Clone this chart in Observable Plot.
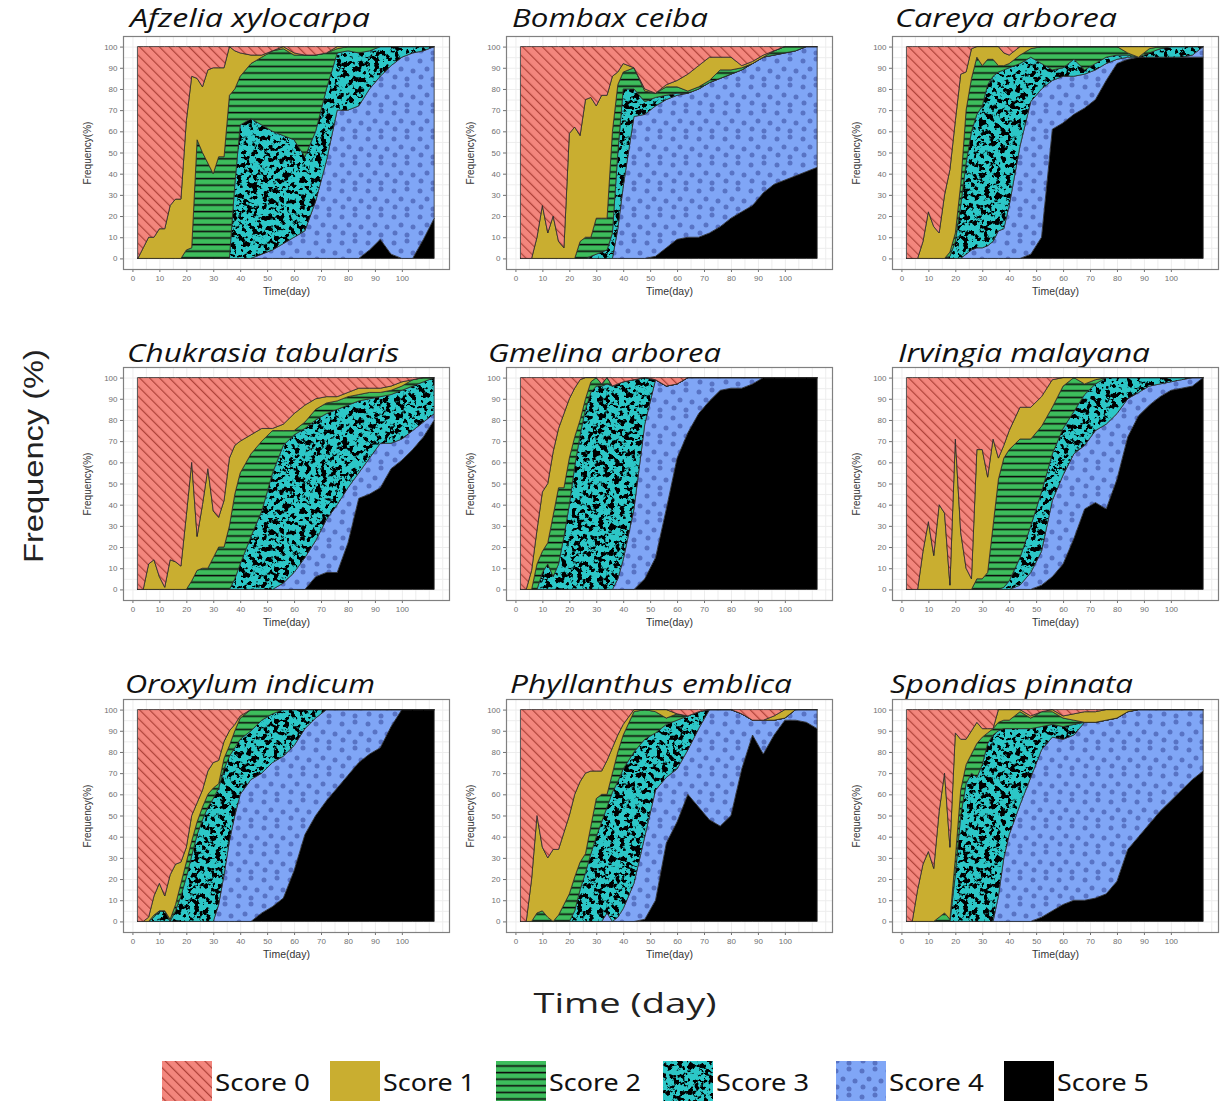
<!DOCTYPE html>
<html>
<head>
<meta charset="utf-8">
<script src="https://cdn.jsdelivr.net/npm/d3@7"></script>
<script src="https://cdn.jsdelivr.net/npm/@observablehq/plot@0.6"></script>
<style>
  html, body { margin: 0; padding: 0; background: #ffffff; }
  #root { position: relative; width: 1225px; height: 1101px; overflow: hidden; background: #ffffff; }
</style>
</head>
<body>
<div id="root"></div>
<script>
// ---------------- DATA ----------------
const days = [2,4,6,8,10,12,14,16,18,20,22,24,26,28,30,32,34,36,38,40,44,48,52,56,60,64,68,72,76,80,84,88,92,96,100,104,108,112];
const xTicks = [0,10,20,30,40,50,60,70,80,90,100];
const yTicks = [0,10,20,30,40,50,60,70,80,90,100];
const scoreNames = ["Score 0","Score 1","Score 2","Score 3","Score 4","Score 5"];
const speciesNames = ["Afzelia xylocarpa","Bombax ceiba","Careya arborea","Chukrasia tabularis","Gmelina arborea","Irvingia malayana","Oroxylum indicum","Phyllanthus emblica","Spondias pinnata"];

// each species: [score0, score1, score2, score3, score4, score5] frequencies (%) at `days`
const afzelia = [
  [100,95,90,90,86,86,75,72,72,35,14,15,19,11,10,10,10,0,2,3,4,4,2,0,3,4,4,3,0,0,0,0,0,0,0,0,0,0],
  [0,5,10,10,14,14,25,28,28,61,81,29,31,44,50,42,42,23,18,11,4,1,0,1,1,0,0,0,1,0,0,0,0,0,0,0,0,0],
  [0,0,0,0,0,0,0,0,0,4,5,56,50,45,40,48,48,77,45,23,26,32,38,41,40,48,36,17,2,2,3,2,0,0,0,0,0,0],
  [0,0,0,0,0,0,0,0,0,0,0,0,0,0,0,0,0,0,35,63,66,61,56,51,46,35,33,34,27,28,25,18,14,9,5,3,2,0],
  [0,0,0,0,0,0,0,0,0,0,0,0,0,0,0,0,0,0,0,0,0,2,4,7,10,13,27,46,70,70,72,76,77,89,95,97,89,81],
  [0,0,0,0,0,0,0,0,0,0,0,0,0,0,0,0,0,0,0,0,0,0,0,0,0,0,0,0,0,0,0,4,9,2,0,0,9,19]
];
const bombax = [
  [100,100,100,90,75,88,80,92,95,41,38,42,25,24,28,23,23,14,12,8,10,20,22,18,16,13,9,5,5,5,9,7,4,2,0,0,0,0],
  [0,0,0,10,25,12,20,8,5,59,62,50,65,66,53,58,58,26,6,4,0,1,0,1,3,8,10,11,6,6,1,1,1,0,0,0,0,0],
  [0,0,0,0,0,0,0,0,0,0,0,8,10,9,17,16,15,48,32,8,10,5,2,4,3,1,1,1,4,2,1,0,0,2,3,2,0,0],
  [0,0,0,0,0,0,0,0,0,0,0,0,0,1,2,3,4,12,36,46,13,6,4,2,1,0,0,0,0,0,0,0,0,0,0,0,0,0],
  [0,0,0,0,0,0,0,0,0,0,0,0,0,0,0,0,0,0,14,34,67,68,71,70,68,68,70,71,70,68,67,67,64,61,60,59,59,57],
  [0,0,0,0,0,0,0,0,0,0,0,0,0,0,0,0,0,0,0,0,0,0,1,5,9,10,10,12,15,19,22,25,31,35,37,39,41,43]
];
const careya = [
  [100,100,100,92,78,85,88,70,58,35,13,12,1,0,0,0,0,0,3,4,0,0,0,0,0,0,0,0,0,0,0,0,0,0,0,0,0,0],
  [0,0,0,8,22,15,12,30,39,53,52,18,14,5,9,6,6,9,6,4,4,1,0,0,0,0,0,0,0,0,3,5,1,0,0,0,0,0],
  [0,0,0,0,0,0,0,0,2,4,10,25,25,27,19,12,8,3,2,2,4,4,8,11,10,6,11,8,5,4,1,0,2,1,0,0,0,0],
  [0,0,0,0,0,0,0,0,1,8,25,43,56,63,67,76,78,75,75,65,39,21,12,5,4,8,2,3,3,2,1,0,2,4,5,5,4,0],
  [0,0,0,0,0,0,0,0,0,0,0,2,4,5,5,6,8,13,14,25,53,72,70,23,22,18,16,14,8,2,1,0,0,0,0,0,1,5],
  [0,0,0,0,0,0,0,0,0,0,0,0,0,0,0,0,0,0,0,0,0,2,10,61,64,68,71,75,84,92,94,95,95,95,95,95,95,95]
];
const chukrasia = [
  [100,100,88,86,94,99,86,87,89,65,40,75,60,43,63,66,58,38,32,30,27,24,24,22,17,13,10,9,9,7,5,5,5,4,2,1,0,0],
  [0,0,12,14,6,1,14,13,11,35,56,16,30,47,22,14,22,32,23,15,9,6,1,3,8,8,5,3,2,2,3,2,2,2,2,0,0,0],
  [0,0,0,0,0,0,0,0,0,0,4,9,10,10,15,20,20,30,40,43,39,33,20,7,2,3,5,5,4,4,3,3,2,2,2,3,2,0],
  [0,0,0,0,0,0,0,0,0,0,0,0,0,0,0,0,0,0,5,12,25,37,55,65,65,61,57,50,45,39,34,28,22,23,23,21,19,17],
  [0,0,0,0,0,0,0,0,0,0,0,0,0,0,0,0,0,0,0,0,0,0,0,3,8,15,17,25,32,26,12,17,21,12,10,9,7,3],
  [0,0,0,0,0,0,0,0,0,0,0,0,0,0,0,0,0,0,0,0,0,0,0,0,0,0,6,8,8,22,43,45,48,57,61,66,72,80]
];
const gmelina = [
  [100,100,91,72,54,50,35,24,17,10,5,1,0,0,0,3,0,4,3,2,1,0,1,4,3,0,0,0,0,0,0,0,0,0,0,0,0,0],
  [0,0,9,16,28,28,30,28,35,28,23,19,10,2,0,0,0,0,0,0,0,0,0,0,0,0,0,0,0,0,0,0,0,0,0,0,0,0],
  [0,0,0,12,10,10,29,36,23,22,14,7,5,5,4,1,3,0,0,0,0,0,0,0,0,0,0,0,0,0,0,0,0,0,0,0,0,0],
  [0,0,0,0,8,12,6,12,25,40,58,73,85,93,96,96,97,96,92,84,61,22,0,0,0,0,0,0,0,0,0,0,0,0,0,0,0,0],
  [0,0,0,0,0,0,0,0,0,0,0,0,0,0,0,0,0,0,5,14,38,73,84,58,35,26,17,11,6,5,5,3,0,0,0,0,0,0],
  [0,0,0,0,0,0,0,0,0,0,0,0,0,0,0,0,0,0,0,0,0,5,15,38,62,74,83,89,94,95,95,97,100,100,100,100,100,100]
];
const irvingia = [
  [100,100,100,82,68,84,60,64,98,29,73,90,95,34,34,47,29,38,32,25,14,14,9,1,0,0,0,0,0,0,0,0,0,0,0,0,0,0],
  [0,0,0,18,32,16,40,36,2,71,27,10,5,61,61,45,41,10,6,9,15,15,14,13,4,0,3,1,0,0,0,0,0,0,0,0,0,0],
  [0,0,0,0,0,0,0,0,0,0,0,0,0,5,5,8,30,52,61,62,56,41,31,22,20,16,5,2,0,0,0,0,0,0,0,0,0,0],
  [0,0,0,0,0,0,0,0,0,0,0,0,0,0,0,0,0,0,1,4,13,22,28,22,22,20,24,22,22,17,10,7,4,3,2,1,0,0],
  [0,0,0,0,0,0,0,0,0,0,0,0,0,0,0,0,0,0,0,0,2,8,16,36,42,40,30,34,40,31,18,11,9,6,4,4,4,0],
  [0,0,0,0,0,0,0,0,0,0,0,0,0,0,0,0,0,0,0,0,0,0,2,6,12,24,38,41,38,52,72,82,87,91,94,95,96,100]
];
const oroxylum = [
  [100,100,98,88,82,88,78,73,72,65,50,44,38,29,25,24,15,10,7,3,0,0,0,0,0,0,0,0,0,0,0,0,0,0,0,0,0,0],
  [0,0,2,9,13,7,21,19,10,7,12,9,8,11,12,11,8,7,3,1,0,0,0,0,0,0,0,0,0,0,0,0,0,0,0,0,0,0],
  [0,0,0,1,0,0,1,3,6,7,7,6,6,6,5,2,5,5,8,10,10,5,2,0,0,0,0,0,0,0,0,0,0,0,0,0,0,0],
  [0,0,0,2,5,5,0,5,12,21,31,41,48,54,58,55,50,40,32,26,23,25,23,22,17,9,4,0,0,0,0,0,0,0,0,0,0,0],
  [0,0,0,0,0,0,0,0,0,0,0,0,0,0,0,8,22,38,50,60,67,66,68,67,59,50,46,43,37,31,25,21,18,8,0,0,0,0],
  [0,0,0,0,0,0,0,0,0,0,0,0,0,0,0,0,0,0,0,0,0,4,7,11,24,41,50,57,63,69,75,79,82,92,100,100,100,100]
];
const phyllanthus = [
  [100,100,80,50,65,70,66,66,58,50,40,34,30,29,29,29,24,18,12,7,0,0,0,0,2,3,1,0,0,0,2,5,5,3,0,0,0,0],
  [0,0,20,46,30,28,34,31,34,37,39,38,38,26,13,11,16,12,8,5,1,0,1,4,0,0,0,0,0,0,0,0,0,2,4,0,0,0],
  [0,0,0,4,5,2,0,3,8,13,16,13,9,13,18,13,6,9,14,16,19,14,10,3,3,0,0,0,0,0,0,0,0,0,0,0,0,0],
  [0,0,0,0,0,0,0,0,0,0,5,15,23,32,40,47,50,61,64,66,62,46,27,25,23,16,8,0,0,0,0,0,0,0,0,0,0,0],
  [0,0,0,0,0,0,0,0,0,0,0,0,0,0,0,0,4,0,2,6,18,39,52,31,25,21,37,52,55,50,26,7,16,7,1,5,6,9],
  [0,0,0,0,0,0,0,0,0,0,0,0,0,0,0,0,0,0,0,0,0,1,10,37,47,60,54,48,45,50,72,88,79,88,95,95,94,91]
];
const spondias = [
  [100,100,85,73,67,75,48,30,65,11,14,14,10,6,9,9,9,0,0,0,0,3,1,0,3,2,1,1,0,0,0,0,0,0,0,0,0,0],
  [0,0,15,27,33,25,50,66,34,59,24,12,11,10,4,2,0,6,5,5,1,1,0,1,1,3,5,5,5,4,1,0,0,0,0,0,0,0],
  [0,0,0,0,0,0,2,4,1,8,12,9,9,16,13,5,3,4,4,4,8,5,7,6,4,2,0,0,0,0,0,0,0,0,0,0,0,0],
  [0,0,0,0,0,0,0,0,0,22,50,65,70,68,74,84,88,78,61,50,36,23,11,6,6,5,0,0,0,0,0,0,0,0,0,0,0,0],
  [0,0,0,0,0,0,0,0,0,0,0,0,0,0,0,0,0,12,30,41,55,68,79,82,78,78,84,83,82,77,65,60,54,48,43,38,33,29],
  [0,0,0,0,0,0,0,0,0,0,0,0,0,0,0,0,0,0,0,0,0,0,2,5,8,10,10,11,13,19,34,40,46,52,57,62,67,71]
];
const allSpecies = [afzelia, bombax, careya, chukrasia, gmelina, irvingia, oroxylum, phyllanthus, spondias];

// ---------------- STYLE / LAYOUT ----------------
const scoreFills = ["url(#p0)", "url(#p1)", "url(#p2)", "url(#p3)", "url(#p4)", "url(#p5)"];
const colLeft = [123, 506, 892];
const rowTop = [36, 367, 699];
const frameW = 326, frameH = 233;
const mL = 45, mR = 6, mT = 6, mB = 36;
const titleX = [130, 512, 895, 127, 488, 898, 125, 510, 890];
const titleW = [240, 196, 222, 272, 233, 252, 250, 282, 243];
const titleBase = [27, 27, 27, 362, 362, 362, 693, 693, 693];
const legendX = [162, 330, 496, 663, 836, 1004];
const legendTextW = [95, 92, 92, 93, 95, 92];

const root = d3.select("#root");
const ov = root.append("svg")
  .attr("width", 1225).attr("height", 1101)
  .style("position", "absolute").style("left", "0px").style("top", "0px");

ov.append("defs").html(`
  <pattern id="p0" patternUnits="userSpaceOnUse" width="7" height="7" patternTransform="rotate(-45)">
    <rect width="7" height="7" fill="#F3867D"/>
    <rect x="3" y="0" width="1.2" height="7" fill="#AE4239"/>
  </pattern>
  <pattern id="p1" patternUnits="userSpaceOnUse" width="10" height="10">
    <rect width="10" height="10" fill="#C9AE30"/>
  </pattern>
  <pattern id="p2" patternUnits="userSpaceOnUse" width="10" height="6.6">
    <rect width="10" height="6.6" fill="#3DBD5C"/>
    <rect y="2.6" width="10" height="1.6" fill="#0d0d0d"/>
  </pattern>
  <filter id="f3" x="0" y="0" width="1" height="1" filterUnits="objectBoundingBox" color-interpolation-filters="sRGB">
    <feTurbulence type="fractalNoise" baseFrequency="0.19" numOctaves="4" seed="5" stitchTiles="stitch" result="t"/>
    <feColorMatrix in="t" type="matrix" values="0 0 0 0 0  0 0 0 0 0  0 0 0 0 0  -12 0 0 0 5.85" result="blk"/>
    <feFlood flood-color="#2CC7C7" result="c"/>
    <feComposite in="blk" in2="c" operator="over"/>
  </filter>
  <pattern id="p3" patternUnits="userSpaceOnUse" width="180" height="180">
    <rect width="180" height="180" fill="#2CC7C7" filter="url(#f3)"/>
  </pattern>
  <pattern id="p4" patternUnits="userSpaceOnUse" width="26" height="26">
    <rect width="26" height="26" fill="#80A6F6"/>
    <circle cx="4" cy="5" r="2.5" fill="#5873C4"/>
    <circle cx="17" cy="3" r="2.5" fill="#5873C4"/>
    <circle cx="11" cy="13" r="2.5" fill="#5873C4"/>
    <circle cx="23" cy="15" r="2.5" fill="#5873C4"/>
    <circle cx="5" cy="21" r="2.5" fill="#5873C4"/>
    <circle cx="17" cy="23" r="2.5" fill="#5873C4"/>
  </pattern>
  <pattern id="p5" patternUnits="userSpaceOnUse" width="10" height="10">
    <rect width="10" height="10" fill="#000000"/>
  </pattern>
`);

// titles
speciesNames.forEach((name, i) => {
  ov.append("text")
    .attr("x", titleX[i]).attr("y", titleBase[i])
    .attr("textLength", titleW[i]).attr("lengthAdjust", "spacingAndGlyphs")
    .attr("font-family", "'Open Sans', sans-serif")
    .attr("font-style", "italic").attr("font-size", 25).attr("fill", "#111")
    .text(name);
});

// global axis titles
ov.append("text")
  .attr("transform", "translate(34,456) rotate(-90)")
  .attr("text-anchor", "middle").attr("dominant-baseline", "central")
  .attr("font-family", "'Liberation Sans', Arial, sans-serif")
  .attr("font-size", 27).attr("fill", "#222")
  .attr("textLength", 214).attr("lengthAdjust", "spacingAndGlyphs")
  .text("Frequency (%)");
ov.append("text")
  .attr("x", 625).attr("y", 1013)
  .attr("text-anchor", "middle")
  .attr("font-family", "'Open Sans', sans-serif")
  .attr("font-size", 28).attr("fill", "#222")
  .attr("textLength", 183).attr("lengthAdjust", "spacingAndGlyphs")
  .text("Time (day)");

// legend
scoreNames.forEach((s, k) => {
  ov.append("rect")
    .attr("x", legendX[k]).attr("y", 1061).attr("width", 50).attr("height", 44)
    .attr("fill", scoreFills[k]);
  ov.append("text")
    .attr("x", legendX[k] + 53).attr("y", 1091)
    .attr("font-family", "'Noto Sans', sans-serif")
    .attr("font-size", 23).attr("fill", "#111")
    .attr("textLength", legendTextW[k]).attr("lengthAdjust", "spacingAndGlyphs")
    .text(s);
});

// ---------------- PANELS ----------------
function makePanel(series) {
  const rows = [];
  for (let k = 5; k >= 0; k--) {
    series[k].forEach((v, i) => rows.push({day: days[i], score: k, value: v}));
  }
  return Plot.plot({
    width: frameW + mL + mR,
    height: frameH + mT + mB,
    marginLeft: mL, marginRight: mR, marginTop: mT, marginBottom: mB,
    style: {background: "none", fontFamily: "'Liberation Sans', Arial, sans-serif", fontSize: "8px", color: "#707070", overflow: "visible"},
    x: {domain: [-3.5, 117.5], ticks: xTicks, label: null, tickSize: 3, tickPadding: 3},
    y: {domain: [-5, 105], ticks: yTicks, label: null, tickSize: 3, tickPadding: 3},
    color: {type: "ordinal", domain: [0, 1, 2, 3, 4, 5], range: scoreFills},
    marks: [
      Plot.gridX([0,5,10,15,20,25,30,35,40,45,50,55,60,65,70,75,80,85,90,95,100,105,110,115], {stroke: "#ededed", strokeOpacity: 1}),
      Plot.gridY([-5,0,5,10,15,20,25,30,35,40,45,50,55,60,65,70,75,80,85,90,95,100,105], {stroke: "#ededed", strokeOpacity: 1}),
      Plot.areaY(rows, {x: "day", y: "value", z: "score", fill: "score", stroke: "#2a2a2a", strokeWidth: 0.8, strokeLinejoin: "round"}),
      Plot.frame({stroke: "#808080", strokeWidth: 1.2}),
      Plot.text(["Time(day)"], {text: d => d, frameAnchor: "bottom", dy: 25, fontSize: 10.5, fill: "#333"}),
      Plot.text(["Frequency(%)"], {text: d => d, frameAnchor: "left", dx: -36, rotate: -90, textAnchor: "middle", lineAnchor: "middle", fontSize: 10, fill: "#333"})
    ]
  });
}

allSpecies.forEach((series, i) => {
  const svg = makePanel(series);
  const c = i % 3, r = Math.floor(i / 3);
  svg.style.position = "absolute";
  svg.style.left = (colLeft[c] - mL) + "px";
  svg.style.top = (rowTop[r] - mT) + "px";
  svg.style.maxWidth = "none";
  root.node().appendChild(svg);
});
</script>
</body>
</html>
